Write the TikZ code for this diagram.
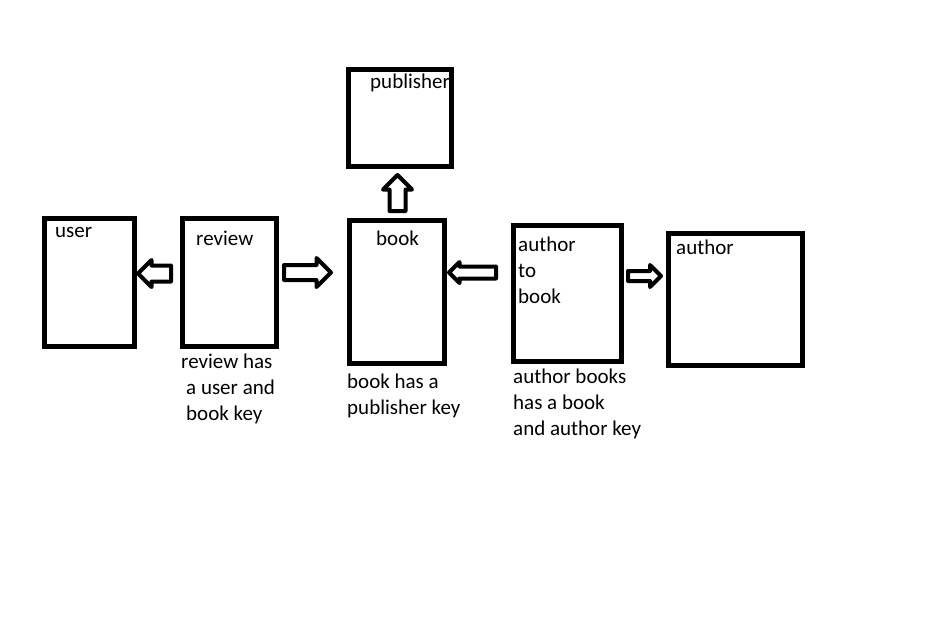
\documentclass[tikz,border=0pt]{standalone}
\usepackage{fontspec}
\setmainfont{Carlito}
\usetikzlibrary{shapes.arrows}
\tikzset{
  table/.style={draw, line width=4.5pt, inner sep=0pt, outer sep=0pt, anchor=north west},
  link/.style={single arrow, draw, line width=4pt, line join=round, inner sep=0pt, outer sep=0pt, anchor=tail},
  txt/.style={inner sep=0pt, anchor=base west, align=left, font=\fontsize{21pt}{26pt}\selectfont}
}

\begin{document}
\begin{tikzpicture}[x=1pt, y=-1pt]
    \useasboundingbox (0,0) rectangle (942,625);
%tables
    \node[table, minimum width=90pt, minimum height=128pt] (user) at (44.5,218.5) {};
    \node[table, minimum width=94pt, minimum height=128pt] (review) at (182.5,218.5) {};
    \node[table, minimum width=95pt, minimum height=143pt] (book) at (349.5,220.5) {};
    \node[table, minimum width=103pt, minimum height=97pt] (publisher) at (348.5,69.5) {};
    \node[table, minimum width=108pt, minimum height=136pt] (authortobook) at (513.5,225.5) {};
    \node[table, minimum width=134pt, minimum height=132pt] (author) at (668.5,233.5) {};
%arrows
    \node[link, shape border rotate=180, minimum height=33pt, inner ysep=6pt, single arrow head extend=5.5pt] (reviewuser) at (171,273.5) {};
    \node[link, minimum height=47pt, inner ysep=5.5pt, single arrow head extend=7pt] (reviewbook) at (284,272.5) {};
    \node[link, shape border rotate=90, minimum height=36pt, inner xsep=6pt, single arrow head extend=6.5pt] (bookpublisher) at (397.5,211) {};
    \node[link, shape border rotate=180, minimum height=47pt, inner ysep=4pt, single arrow head extend=4.5pt] (atbbook) at (496,272.5) {};
    \node[link, minimum height=33pt, inner ysep=3pt, single arrow head extend=6pt] (atbauthor) at (628,276) {};
%labels (base = last line)
    \node[txt] (userlbl) at (55,237) {user};
    \node[txt] (reviewlbl) at (196,245) {review};
    \node[txt] (publisherlbl) at (370,88) {publisher};
    \node[txt] (booklbl) at (376,245) {book};
    \node[txt] (atblbl) at (518,303) {author\\to\\book};
    \node[txt] (authorlbl) at (676,254) {author};
%notes
    \node[txt] (reviewnote) at (181,420) {review has\\\hspace*{5pt}a user and\\\hspace*{5pt}book key};
    \node[txt] (booknote) at (347,414) {book has a\\publisher key};
    \node[txt] (atbnote) at (513,435) {author books\\has a book\\and author key};
\end{tikzpicture}
\end{document}
